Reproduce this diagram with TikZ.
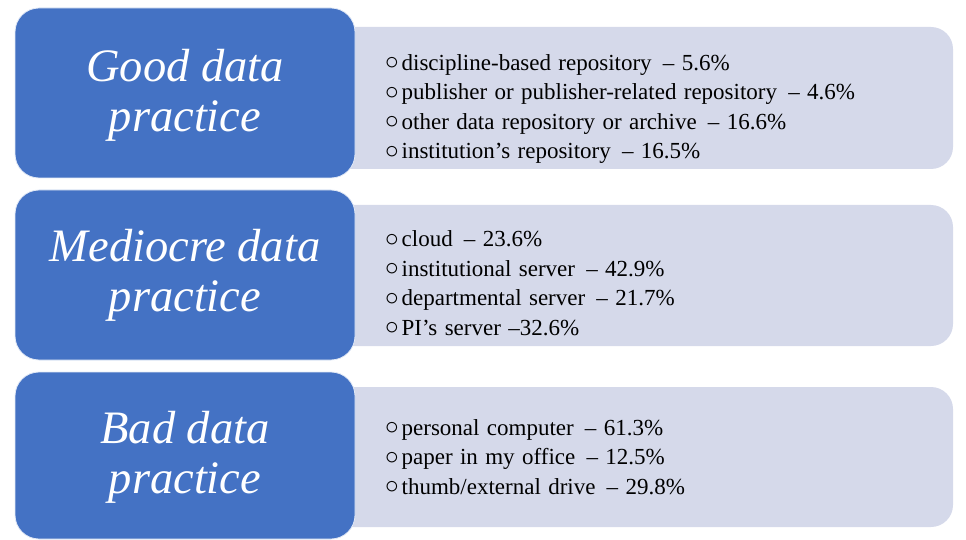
\documentclass[tikz,border=0pt]{standalone}
\usepackage{fontspec}
\usepackage{graphicx}
\setmainfont{Liberation Serif}
\definecolor{bluebox}{RGB}{68,114,196}
\definecolor{greybox}{RGB}{213,217,234}
\newcommand{\bul}{\raisebox{0.02em}{\scalebox{1.1}{$\circ$}}\kern0.12em}
\newcommand{\listfont}{\fontsize{23}{29.5}\selectfont\spaceskip=0.32em plus 0.1em\relax}
\tikzset{
  catbox/.style={draw=white!85!bluebox, line width=0.8pt, fill=bluebox, rounded corners=24pt},
  listbox/.style={fill=greybox, rounded corners=22pt},
  cattext/.style={text=white, font=\fontsize{46.5}{50}\selectfont\itshape, align=center},
  listtext/.style={text=black, font=\listfont, align=left, anchor=west, inner sep=0pt}
}
\begin{document}
\begin{tikzpicture}[x=1pt,y=-1pt]
\useasboundingbox (0,0) rectangle (966,540);
% row 1
\path[listbox] (300,27) rectangle (953,169);
\path[catbox] (15,8) rectangle (355,178);
\node[cattext] (good) at (185,95) {Good data\\practice};
\node[listtext] (goodlist) at (385,109) {\bul discipline-based repository \,-- 5.6\%\\\bul publisher or publisher-related repository \,-- 4.6\%\\\bul other data repository or archive \,-- 16.6\%\\\bul institution's repository \,-- 16.5\%};
% row 2
\path[listbox] (300,205) rectangle (953,346);
\path[catbox] (15,190) rectangle (355,360);
\node[cattext] (med) at (185,275) {Mediocre data\\practice};
\node[listtext] (medlist) at (385,283) {\bul cloud \,-- 23.6\%\\\bul institutional server \,-- 42.9\%\\\bul departmental server \,-- 21.7\%\\\bul PI's server --32.6\%};
% row 3
\path[listbox] (300,387) rectangle (953,527);
\path[catbox] (15,372) rectangle (355,539);
\node[cattext] (bad) at (185,457) {Bad data\\practice};
\node[listtext] (badlist) at (385,457) {\bul personal computer \,-- 61.3\%\\\bul paper in my office \,-- 12.5\%\\\bul thumb/external drive \,-- 29.8\%};
\end{tikzpicture}
\end{document}
